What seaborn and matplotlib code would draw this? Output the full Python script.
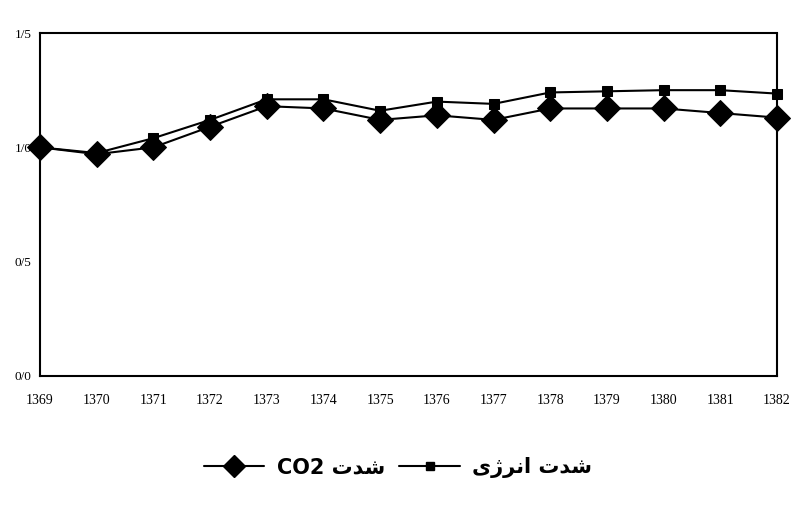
import matplotlib
matplotlib.use("Agg")
import matplotlib.pyplot as plt
import seaborn as sns
import pandas as pd
from matplotlib.lines import Line2D

years = [1369, 1370, 1371, 1372, 1373, 1374, 1375, 1376, 1377, 1378, 1379, 1380, 1381, 1382]
co2_intensity = [1.00, 0.97, 1.00, 1.09, 1.18, 1.17, 1.12, 1.14, 1.12, 1.17, 1.17, 1.17, 1.15, 1.13]
energy_intensity = [1.00, 0.975, 1.04, 1.12, 1.21, 1.21, 1.16, 1.20, 1.19, 1.24, 1.245, 1.25, 1.25, 1.235]
y_ticks = [0.0, 0.5, 1.0, 1.5]
y_tick_labels = ["0/0", "0/5", "1/0", "1/5"]
x_tick_labels = [str(y) for y in years]
# Persian labels (shaped presentation forms, visual order)
label_co2 = "CO2 \uFE95\uFEAA\uFEB7"            # شدت CO2
label_energy = "\uFBFC\uFB8A\uFEAE\uFEE7\uFE8D \uFE95\uFEAA\uFEB7"  # شدت انرژی

sns.set_style("white")
plt.rcParams["font.family"] = ["Liberation Serif", "DejaVu Sans"]
plt.rcParams["text.color"] = "black"

df = pd.DataFrame({"year": years, "co2": co2_intensity, "energy": energy_intensity})

fig = plt.figure(figsize=(7.98, 5.23), dpi=100)
ax = fig.add_axes([40/798, 1-376/523, (777-40)/798, (376-33)/523])

sns.lineplot(data=df, x="year", y="energy", ax=ax, color="black", linewidth=1.5,
             marker="s", markersize=7.5, markeredgecolor="black", markerfacecolor="black",
             clip_on=False, zorder=3)
sns.lineplot(data=df, x="year", y="co2", ax=ax, color="black", linewidth=1.5,
             marker="D", markersize=13.5, markeredgecolor="black", markerfacecolor="black",
             clip_on=False, zorder=4)

ax.set_xlim(years[0], years[-1])
ax.set_ylim(0, 1.5)
ax.set_xticks(years)
ax.set_xticklabels(x_tick_labels, fontsize=10)
ax.set_yticks(y_ticks)
ax.set_yticklabels(y_tick_labels, fontsize=9.5)
ax.set_xlabel("")
ax.set_ylabel("")
ax.tick_params(axis="x", direction="in", length=3, width=1, pad=13, colors="black")
ax.tick_params(axis="y", direction="out", length=3, width=1, pad=3, colors="black")
for side in ["left", "right", "top", "bottom"]:
    ax.spines[side].set_visible(True)
    ax.spines[side].set_color("black")
    ax.spines[side].set_linewidth(1.5)
ax.spines["right"].set_linestyle((0, (2, 1)))

h_co2 = Line2D([], [], color="black", linewidth=1.5, marker="D", markersize=11)
h_energy = Line2D([], [], color="black", linewidth=1.5, marker="s", markersize=6)
leg = fig.legend([h_co2, h_energy], [label_co2, label_energy], loc="center",
                 bbox_to_anchor=(398/798, 1-468/523), ncol=2, frameon=False,
                 handlelength=2.9, columnspacing=0.7, handletextpad=0.6,
                 labelcolor="black",
                 prop={"family": ["DejaVu Sans"], "weight": "bold", "size": 15})

fig.savefig("out.png", dpi=100)
